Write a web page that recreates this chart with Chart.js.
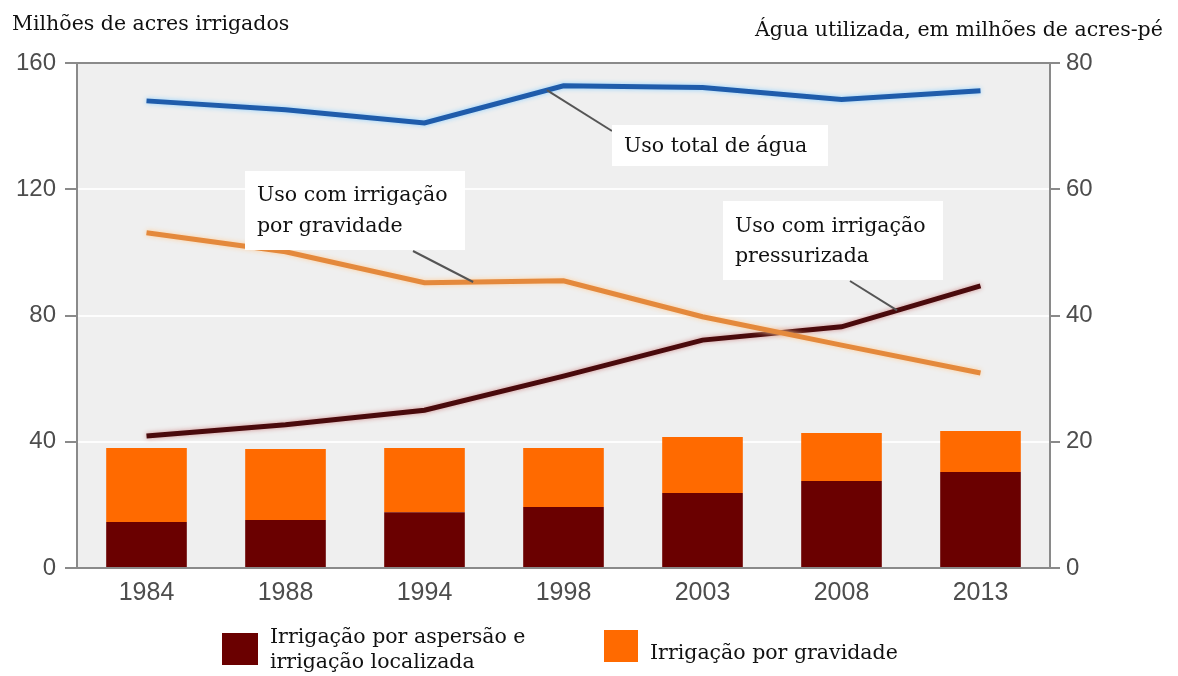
<!DOCTYPE html>
<html>
<head>
<meta charset="utf-8">
<script src="https://cdn.jsdelivr.net/npm/chart.js@4.4.0/dist/chart.umd.min.js"></script>
<style>
html, body { margin: 0; padding: 0; background: #fff; }
#wrap { width: 1178px; height: 676px; position: relative; }
</style>
</head>
<body>
<div id="wrap"><canvas id="chartIrrig"></canvas></div>
<script>
var anos = ['1984', '1988', '1994', '1998', '2003', '2008', '2013'];

// milhoes de acres irrigados (eixo esquerdo)
var areaAspersao = [14.6, 15.2, 17.7, 19.3, 23.8, 27.6, 30.4];
var areaGravidade = [23.4, 22.5, 20.3, 18.7, 17.7, 15.2, 13.0];

// agua utilizada, milhoes de acres-pe (eixo direito)
var usoTotal = [74.0, 72.6, 70.5, 76.4, 76.1, 74.2, 75.6];
var usoGravidade = [53.1, 50.1, 45.2, 45.5, 39.8, 35.3, 30.9];
var usoPressurizada = [20.9, 22.7, 25.0, 30.4, 36.1, 38.2, 44.7];

var tituloEsq = 'Milhões de acres irrigados';
var tituloDir = 'Água utilizada, em milhões de acres-pé';
var rotulosBarras = [['Irrigação por aspersão e', 'irrigação localizada'], ['Irrigação por gravidade']];
var rotulosLinhas = [['Uso total de água'], ['Uso com irrigação', 'por gravidade'], ['Uso com irrigação', 'pressurizada']];

var corEixo = '#8a8a8a';
var fonteSerif = '"DejaVu Serif", serif';
var fonteEixo = '"Liberation Sans", Arial, sans-serif';

// caixas de texto com linha de chamada (ligadas a um ponto da linha)
var chamadas = [
	{ ds: 0, i: 2, t: 0.88, box: [612, 125, 216, 41], from: [612, 131], base: [152] },
	{ ds: 1, i: 2, t: 0.35, box: [245, 171, 220, 79], from: [413, 251], base: [201, 232] },
	{ ds: 2, i: 5, t: 0.40, box: [723, 201, 220, 79], from: [850, 281], base: [232, 262] }
];

var fundoPlot = {
	id: 'fundoPlot',
	beforeDraw: function(chart) {
		var a = chart.chartArea, ctx = chart.ctx;
		ctx.save();
		ctx.fillStyle = '#efefef';
		ctx.fillRect(a.left, a.top, a.right - a.left, a.bottom - a.top);
		ctx.restore();
	}
};

var brilhoLinhas = {
	id: 'brilhoLinhas',
	beforeDatasetDraw: function(chart, args) {
		var ds = chart.data.datasets[args.index];
		chart.ctx.save();
		if (ds.halo) {
			chart.ctx.shadowColor = ds.halo;
			chart.ctx.shadowBlur = 5;
		}
	},
	afterDatasetDraw: function(chart) {
		chart.ctx.restore();
	}
};

var textos = {
	id: 'textos',
	afterDraw: function(chart) {
		var ctx = chart.ctx;
		ctx.save();
		ctx.font = '20.5px ' + fonteSerif;
		ctx.fillStyle = '#111';
		ctx.textBaseline = 'alphabetic';
		ctx.textAlign = 'left';
		ctx.fillText(tituloEsq, 12, 30);
		ctx.fillText(tituloDir, 755, 36);

		// chamadas
		chamadas.forEach(function(c, k) {
			var meta = chart.getDatasetMeta(c.ds);
			var p0 = meta.data[c.i], p1 = meta.data[c.i + 1];
			var px = p0.x + (p1.x - p0.x) * c.t;
			var py = p0.y + (p1.y - p0.y) * c.t;
			ctx.strokeStyle = '#555';
			ctx.lineWidth = 2;
			ctx.beginPath();
			ctx.moveTo(c.from[0], c.from[1]);
			ctx.lineTo(px, py);
			ctx.stroke();
			ctx.fillStyle = '#fff';
			ctx.fillRect(c.box[0], c.box[1], c.box[2], c.box[3]);
			ctx.fillStyle = '#111';
			rotulosLinhas[k].forEach(function(linha, j) {
				ctx.fillText(linha, c.box[0] + 12, c.base[j]);
			});
		});

		// legenda das barras
		var leg = [
			{ x: 222, y: 633, w: 36, h: 32, tx: 270, base: [643, 668] },
			{ x: 604, y: 630, w: 34, h: 32, tx: 650, base: [659] }
		];
		leg.forEach(function(l, k) {
			ctx.fillStyle = chart.data.datasets[3 + k].backgroundColor;
			ctx.fillRect(l.x, l.y, l.w, l.h);
			ctx.fillStyle = '#111';
			rotulosBarras[k].forEach(function(linha, j) {
				ctx.fillText(linha, l.tx, l.base[j]);
			});
		});
		ctx.restore();
	}
};

var ctxIrrig = document.getElementById('chartIrrig').getContext('2d');
var chartIrrig = new Chart(ctxIrrig, {
	type: 'bar',
	data: {
		labels: anos,
		datasets: [{
			type: 'line',
			label: rotulosLinhas[0].join(' '),
			data: usoTotal,
			yAxisID: 'y1',
			borderColor: '#1f5cab',
			halo: '#8fd0ff',
			borderWidth: 5,
			pointRadius: 0,
			tension: 0,
			order: 0
		}, {
			type: 'line',
			label: rotulosLinhas[1].join(' '),
			data: usoGravidade,
			yAxisID: 'y1',
			borderColor: '#e4893c',
			halo: '#ffcf9c',
			borderWidth: 5,
			pointRadius: 0,
			tension: 0,
			order: 0
		}, {
			type: 'line',
			label: rotulosLinhas[2].join(' '),
			data: usoPressurizada,
			yAxisID: 'y1',
			borderColor: '#4a0a0c',
			halo: '#d09090',
			borderWidth: 5,
			pointRadius: 0,
			tension: 0,
			order: 0
		}, {
			label: rotulosBarras[0].join(' '),
			data: areaAspersao,
			yAxisID: 'y',
			backgroundColor: '#6a0000',
			stack: 'area',
			barPercentage: 0.58,
			categoryPercentage: 1,
			order: 1
		}, {
			label: rotulosBarras[1].join(' '),
			data: areaGravidade,
			yAxisID: 'y',
			backgroundColor: '#ff6a00',
			stack: 'area',
			barPercentage: 0.58,
			categoryPercentage: 1,
			order: 1
		}]
	},
	options: {
		responsive: true,
		maintainAspectRatio: false,
		animation: false,
		layout: { padding: { top: 63, left: 0, right: 0, bottom: 0 } },
		plugins: {
			legend: { display: false },
			tooltip: { enabled: false }
		},
		scales: {
			x: {
				stacked: true,
				grid: { display: false, drawTicks: false },
				border: { display: true, color: corEixo, width: 2 },
				ticks: {
					color: '#4d4d4d',
					padding: 10,
					font: { family: fonteEixo, size: 25 }
				},
				afterFit: function(s) { s.height = 108; }
			},
			y: {
				position: 'left',
				stacked: true,
				min: 0,
				max: 160,
				ticks: {
					stepSize: 40,
					color: '#4d4d4d',
					padding: 9,
					font: { family: fonteEixo, size: 24 }
				},
				grid: {
					color: function(c) { return c.tick && c.tick.value === 160 ? corEixo : 'rgba(255,255,255,0.85)'; },
					lineWidth: 2,
					tickColor: corEixo,
					tickLength: 12,
					tickWidth: 2
				},
				border: { color: corEixo, width: 2 },
				afterFit: function(s) { s.width = 77; }
			},
			y1: {
				position: 'right',
				min: 0,
				max: 80,
				ticks: {
					stepSize: 20,
					color: '#4d4d4d',
					padding: 6,
					font: { family: fonteEixo, size: 24 }
				},
				grid: {
					drawOnChartArea: false,
					color: corEixo,
					lineWidth: 2,
					tickLength: 10,
					tickWidth: 2
				},
				border: { color: corEixo, width: 2 },
				afterFit: function(s) { s.width = 128; }
			}
		}
	},
	plugins: [fundoPlot, brilhoLinhas, textos]
});
</script>
</body>
</html>
